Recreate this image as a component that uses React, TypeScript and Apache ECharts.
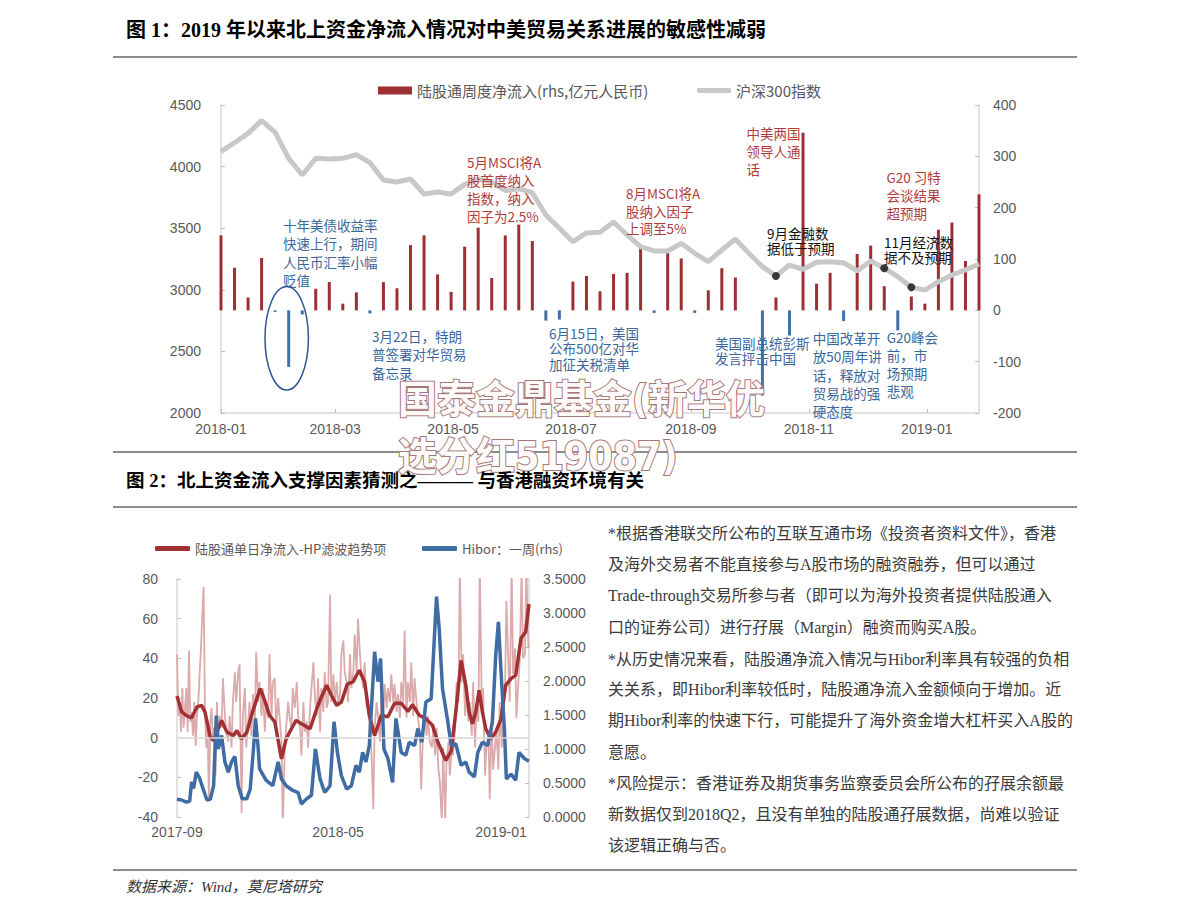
import React, { useEffect, useRef } from "react";
import * as echarts from "echarts";

// ---------------- Figure 1 data ----------------
const weekDates = [
  "2018-01-05","2018-01-12","2018-01-19","2018-01-26","2018-02-02","2018-02-09","2018-02-16","2018-02-23",
  "2018-03-02","2018-03-09","2018-03-16","2018-03-23","2018-03-30","2018-04-06","2018-04-13","2018-04-20","2018-04-27",
  "2018-05-04","2018-05-11","2018-05-18","2018-05-25","2018-06-01","2018-06-08","2018-06-15","2018-06-22","2018-06-29",
  "2018-07-06","2018-07-13","2018-07-20","2018-07-27","2018-08-03","2018-08-10","2018-08-17","2018-08-24","2018-08-31",
  "2018-09-07","2018-09-14","2018-09-21","2018-09-28","2018-10-05","2018-10-12","2018-10-19","2018-10-26",
  "2018-11-02","2018-11-09","2018-11-16","2018-11-23","2018-11-30","2018-12-07","2018-12-14","2018-12-21","2018-12-28",
  "2019-01-04","2019-01-11","2019-01-18","2019-01-25","2019-02-01",
];
const weeklyNetInflow = [
  146, 83, 25, 102, -3, -110, -8, 42, 55, 13, 35, -6, 55, 43, 127, 146, 70, 36, 124, 161,
  63, 146, 167, 135, -20, -18, 56, 67, 37, 71, 73, 122, -5, 113, 101, -5, 39, 82, 64, 0,
  -166, 25, -49, 346, 52, 73, -21, 110, 126, 47, -39, 27, 13, 157, 171, 96, 226,
];
const csi300 = [
  4121, 4194, 4270, 4373, 4278, 4067, 3932, 4067, 4062, 4067, 4097, 4032, 3891, 3875, 3899, 3778, 3794, 3778, 3856, 3897,
  3875, 3805, 3821, 3788, 3607, 3499, 3390, 3462, 3467, 3550, 3445, 3350, 3315, 3315, 3377, 3296, 3228, 3323, 3412, 3296,
  3188, 3112, 3201, 3166, 3223, 3228, 3220, 3153, 3234, 3175, 3106, 3020, 2998, 3066, 3120, 3161, 3209,
];
const eventDotIndex = [41, 49, 51];
const fig1TickDates = ["2018-01-05", "2018-03-05", "2018-05-05", "2018-07-05", "2018-09-05", "2018-11-05", "2019-01-05"];

// ---------------- Figure 2 data (x = days since 2017-09-01) ----------------
const fig2Origin = "2017-09-01";
const fig2End = "2019-02-12";
const fig2TickDates = ["2017-09-01", "2018-05-01", "2019-01-01"];

const dailyDays = [
  0, 2, 4, 6, 8, 10, 12, 14, 16, 18, 20, 22, 24, 26, 28, 30, 32, 34, 36, 38, 40, 42, 44, 46, 48, 50, 52, 54, 56, 58, 60, 62, 64,
  67, 69, 72, 74, 77, 79, 82, 84, 87, 89,
  92, 94, 97, 99, 102, 104, 107, 109, 112, 114,
  117, 119, 122, 124, 127, 129, 132, 134, 137, 139,
  142, 144, 147, 149, 152, 154, 157, 159, 162, 164,
  167, 169, 172, 174, 177, 180, 182, 185, 187, 190,
  192, 195, 197, 200, 202, 205, 207, 210, 212, 215,
  217, 220, 222, 225, 227, 230, 232, 235, 237, 240,
  242, 245, 247, 250, 252, 255, 257, 260, 262, 265,
  267, 270, 272, 275, 277, 280, 282, 285, 287, 290,
  292, 295, 297, 300, 302, 305, 307, 310, 312, 315,
  317, 320, 322, 325, 327, 330, 332, 335, 337, 340,
  342, 345, 347, 350, 352, 355, 357, 360, 362, 365,
  367, 370, 372, 375, 377, 380, 383, 385, 388, 390,
  393, 395, 398, 400, 403, 405, 408, 410, 413, 415,
  418, 420, 423, 425, 428, 430, 433, 435, 438, 440,
  443, 445, 448, 450, 453, 455, 458, 460, 463, 465,
  468, 470, 473, 475, 478, 480, 483, 485, 488, 490,
  493, 495, 498, 500, 503, 505, 508, 510, 513, 515,
  518, 520, 523, 525, 528, 529,
];
const dailyNetInflow = [
  42, 11, 18, 3, 25, 5, 15, 25, 3, 44, 8, 13, 1, 18, -4, 11, 18, 32, 45, 62, 76, 15, -5, 5, -32, 8, 15, -2, 5, -19, 18, -5, 11,
  5, 30, 11, 3, -2, 11, -5, 18, 33, 18,
  33, 37, -38, 11, 25, -5, 8, 18, 1, 22,
  8, 43, 18, 28, 11, 25, 3, 18, 10, 42,
  11, 28, 30, 5, 20, 11, -2, -45, -5, 5,
  18, 11, 5, 25, 15, 28, 11, 5, -9, 18,
  3, 8, -5, 15, 25, 38, 22, 11, 30, 3,
  25, 13, 33, 15, 18, 72, 18, 32, 18, 28,
  17, 22, 42, 49, 33, 28, 18, 42, 25, 33,
  52, 33, 60, 42, 32, 25, 38, 15, 18, 3,
  -5, -36, 5, 18, 11, -2, 22, 8, 27, 15,
  25, 18, 32, 18, 27, 13, 22, 10, 28, 18,
  54, 10, 28, 18, 38, 11, 30, 18, 11, 1,
  -26, 5, 15, 1, 11, -2, -5, 5, -9, 5,
  -16, -22, -43, -5, -43, -12, -2, -19, -5, -9,
  5, 28, 18, 87, 28, 42, 11, 25, 8, 18,
  1, 28, -5, 15, 8, 87, 18, 25, -19, -5,
  3, -31, 11, -16, -5, 5, -16, 18, -5, 11,
  25, 69, 37, 18, 87, 32, 45, 10, 28, 38,
  87, 40, 42, 87, 45, 47,
];
const hpDays = [
  0, 7, 15, 22, 30, 37, 42, 50, 55, 62, 67, 75, 85, 90, 97, 105, 112, 120, 125, 130,
  139, 147, 157, 164, 172, 179, 187, 200, 210, 217, 225, 232, 240, 247, 256, 265, 270, 274, 282, 289,
  297, 307, 317, 327, 337, 347, 354, 364, 374, 384, 392, 404, 412, 419, 427, 434, 439, 444, 449, 454,
  459, 464, 472, 479, 487, 494, 502, 509, 517, 524, 529,
];
const hpTrend = [
  21, 13, 11, 10, 15.5, 16.3, 13, 0.3, -1.4, 4.5, 8.7, 2.8, 1.1, 3.6, -0.6, 2.8, 11.3, 19.7, 24.7, 20.5,
  11.3, 8, -10.7, -0.6, 4.5, 8.7, 7, 4.5, 14.6, 20.5, 26.4, 21.4, 16.3, 18, 27, 28.3, 31.6, 34, 28.1, 11.3,
  1.1, 11.3, 10.5, 17.4, 17.4, 13.2, 16.6, 11.3, 9.6, 6.2, -2.2, -11.5, -6.8, 12.9, 39, 26.4, 12.9, 7, 12.9, 23.9,
  12.9, 4.5, -0.6, 2.8, 9.5, 26.4, 29.8, 31.5, 50, 53.4, 67.4,
];
const hiborDays = [
  0, 7, 14, 19, 22, 25, 29, 34, 39, 45, 50, 55, 59, 62, 67, 72, 77, 82, 87, 92,
  98, 105, 110, 115, 118, 122, 124, 134, 144, 152, 157, 164, 174, 182, 187, 195, 202, 208, 215, 222,
  230, 236, 241, 247, 255, 262, 269, 274, 279, 284, 289, 297, 302, 306, 311, 317, 324, 329, 337, 344,
  349, 357, 362, 368, 374, 382, 390, 394, 399, 407, 412, 419, 427, 434, 439, 447, 452, 459, 467, 474,
  479, 483, 487, 492, 495, 502, 509, 514, 522, 529,
];
const hibor1w = [
  0.26, 0.25, 0.22, 0.23, 0.52, 0.42, 0.66, 0.57, 0.42, 0.25, 0.26, 0.46, 1.49, 1.0, 1.2, 0.81, 0.66, 0.81, 0.89, 0.46,
  0.27, 0.27, 0.41, 1.01, 1.45, 1.01, 0.71, 0.54, 0.46, 0.81, 0.56, 0.46, 0.39, 0.36, 0.19, 0.27, 0.32, 1.0, 0.56, 0.36,
  0.46, 1.4, 0.95, 0.61, 0.41, 0.46, 0.76, 0.66, 0.95, 0.81, 1.05, 2.43, 1.99, 2.33, 1.0, 0.86, 0.51, 1.45, 0.95, 0.91,
  1.1, 1.05, 1.3, 1.1, 1.69, 1.74, 3.24, 2.78, 1.89, 1.4, 1.05, 1.08, 0.76, 0.81, 0.66, 0.59, 0.95, 1.1, 1.05, 1.4,
  2.38, 2.87, 2.13, 1.3, 0.56, 0.63, 0.54, 0.95, 0.86, 0.82,
];

// ---------------- texts ----------------
const title1 = "图 1：2019 年以来北上资金净流入情况对中美贸易关系进展的敏感性减弱";
const title2 = "图 2：北上资金流入支撑因素猜测之——— 与香港融资环境有关";
const sourceText = "数据来源：Wind，莫尼塔研究";
const watermarkLines = ["国泰金鼎基金(新华优", "选分红519087)"];
const NAME_BAR = "陆股通周度净流入(rhs,亿元人民币)";
const NAME_CSI = "沪深300指数";
const NAME_HP = "陆股通单日净流入-HP滤波趋势项";
const NAME_HIBOR = "Hibor：一周(rhs)";
const paragraphLines = [
  "*根据香港联交所公布的互联互通市场《投资者资料文件》，香港",
  "及海外交易者不能直接参与A股市场的融资融券，但可以通过",
  "Trade-through交易所参与者（即可以为海外投资者提供陆股通入",
  "口的证券公司）进行孖展（Margin）融资而购买A股。",
  "*从历史情况来看，陆股通净流入情况与Hibor利率具有较强的负相",
  "关关系，即Hibor利率较低时，陆股通净流入金额倾向于增加。近",
  "期Hibor利率的快速下行，可能提升了海外资金增大杠杆买入A股的",
  "意愿。",
  "*风险提示：香港证券及期货事务监察委员会所公布的孖展余额最",
  "新数据仅到2018Q2，且没有单独的陆股通孖展数据，尚难以验证",
  "该逻辑正确与否。",
];

// ---------------- styling ----------------
const RED = "#9c2f31";
const NEG_BLUE = "#4271a4";
const GRAY_LINE = "#c8c8c8";
const HP_RED = "#a23134";
const HIBOR_BLUE = "#3e6ca3";
const PINK = "#dcaaaa";
const AXIS_C = "#d9d9d9";
const LABEL_C = "#595959";
const NOTE_RED = "#b23b3b";
const NOTE_BLUE = "#3b679c";
const NOTE_BLACK = "#111111";
const SERIF_CJK = '"Liberation Serif", "Noto Sans CJK SC", serif';
const SANS_CJK = '"Noto Sans CJK SC", sans-serif';
const NUM_FONT = '"Liberation Sans", Arial, sans-serif';
const WM_FONT = '"Liberation Sans Narrow", "DejaVu Sans Condensed", "Noto Sans CJK SC", sans-serif';

const DAY_MS = 86400000;
const dayOf = (s: string, origin: string) =>
  Math.round((Date.parse(s + "T00:00:00Z") - Date.parse(origin + "T00:00:00Z")) / DAY_MS);

const notes = [
  { t: "十年美债收益率\n快速上行，期间\n人民币汇率小幅\n贬值", x: 283, y: 216, c: NOTE_BLUE, lh: 18.3 },
  { t: "3月22日，特朗\n普签署对华贸易\n备忘录", x: 372, y: 327, c: NOTE_BLUE, lh: 18.3 },
  { t: "5月MSCI将A\n股首度纳入\n指数，纳入\n因子为2.5%", x: 467, y: 153, c: NOTE_RED, lh: 18 },
  { t: "6月15日，美国\n公布500亿对华\n加征关税清单", x: 549, y: 325, c: NOTE_BLUE, lh: 15.5 },
  { t: "8月MSCI将A\n股纳入因子\n上调至5%", x: 626, y: 184.5, c: NOTE_RED, lh: 17.5 },
  { t: "中美两国\n领导人通\n话", x: 746.5, y: 124, c: NOTE_RED, lh: 18 },
  { t: "9月金融数\n据低于预期", x: 767, y: 225.5, c: NOTE_BLACK, lh: 15 },
  { t: "G20 习特\n会谈结果\n超预期", x: 886.5, y: 168.3, c: NOTE_RED, lh: 18 },
  { t: "11月经济数\n据不及预期", x: 884, y: 234.2, c: NOTE_BLACK, lh: 15 },
  { t: "美国副总统彭斯\n发言抨击中国", x: 715, y: 335.8, c: NOTE_BLUE, lh: 15 },
  { t: "中国改革开\n放50周年讲\n话，释放对\n贸易战的强\n硬态度", x: 812.7, y: 329.3, c: NOTE_BLUE, lh: 18.1 },
  { t: "G20峰会\n前，市\n场预期\n悲观", x: 886.7, y: 327.6, c: NOTE_BLUE, lh: 18.1 },
];

function buildOption() {
  const origin1 = weekDates[0];
  const weekX = weekDates.map((d) => dayOf(d, origin1));
  const tick1 = fig1TickDates.map((d) => dayOf(d, origin1));
  const tick1Label: Record<number, string> = {};
  fig1TickDates.forEach((d, i) => (tick1Label[tick1[i]] = d.slice(0, 7)));

  const tick2 = fig2TickDates.map((d) => dayOf(d, fig2Origin));
  const tick2Label: Record<number, string> = {};
  fig2TickDates.forEach((d, i) => (tick2Label[tick2[i]] = d.slice(0, 7)));
  const max2 = dayOf(fig2End, fig2Origin);

  const axisLabelBase = { color: LABEL_C, fontSize: 14, fontFamily: NUM_FONT };
  const axisTickBase = { show: true, inside: true, length: 4, lineStyle: { color: "#bfbfbf" } };
  const axisLineBase = { show: true, onZero: false, lineStyle: { color: AXIS_C, width: 1.5 } };
  const plain = (v: number) => String(v);

  const graphic: any[] = [];
  [57, 452, 507, 870].forEach((y) =>
    graphic.push({ type: "line", shape: { x1: 113, y1: y, x2: 1077, y2: y }, style: { stroke: "#1a1a1a", lineWidth: 1 } })
  );
  graphic.push({
    type: "text", x: 126, y: 30, z: 120,
    style: { text: title1, fontSize: 20, fontWeight: "bold", fontFamily: SERIF_CJK, fill: "#000", align: "left", verticalAlign: "middle" },
  });
  graphic.push({
    type: "text", x: 126, y: 481, z: 120,
    style: { text: title2, fontSize: 18.5, fontWeight: "bold", fontFamily: SERIF_CJK, fill: "#000", align: "left", verticalAlign: "middle" },
  });
  graphic.push({
    type: "text", x: 126, y: 887,
    style: { text: sourceText, fontSize: 15, fontStyle: "italic", fontFamily: SERIF_CJK, fill: "#333", align: "left", verticalAlign: "middle" },
  });
  const paraY = [533, 564, 595, 627, 659, 689, 720, 752, 783, 814, 845];
  paragraphLines.forEach((t, i) =>
    graphic.push({
      type: "text", x: 608, y: paraY[i],
      style: { text: t, fontSize: 16, fontFamily: SERIF_CJK, fill: "#3a3a3a", align: "left", verticalAlign: "middle" },
    })
  );
  notes.forEach((n) =>
    graphic.push({
      type: "text", x: n.x, y: n.y, z: 10,
      style: { text: n.t, fontSize: 13.5, lineHeight: n.lh, fontFamily: SANS_CJK, fill: n.c, align: "left", verticalAlign: "top" },
    })
  );
  graphic.push({
    type: "ellipse", z: 10,
    shape: { cx: 286.7, cy: 338.3, rx: 21.7, ry: 51.7 },
    style: { fill: "none", stroke: "#2f5597", lineWidth: 1.5 },
  });
  watermarkLines.forEach((t, i) =>
    graphic.push({
      type: "text", x: 398, y: i === 0 ? 399 : 456, z: 100,
      style: {
        text: t, fontSize: 39, fontWeight: "bold", fontFamily: WM_FONT,
        fill: "#fffafa", stroke: "#a57878", lineWidth: 2, align: "left", verticalAlign: "middle",
      },
    })
  );

  const legendText = (size: number) => ({ fontSize: size, color: LABEL_C, fontFamily: SANS_CJK });

  return {
    animation: false,
    backgroundColor: "#ffffff",
    grid: [
      { left: 221, top: 105, width: 758, height: 308 },
      { left: 177, top: 579, width: 352, height: 238 },
    ],
    legend: [
      { left: 378, top: 83, padding: 0, itemWidth: 34, itemHeight: 8, textStyle: legendText(15), data: [{ name: NAME_BAR, icon: "rect" }] },
      { left: 697, top: 83, padding: 0, itemWidth: 34, itemHeight: 5, textStyle: legendText(15), data: [{ name: NAME_CSI, icon: "roundRect" }] },
      { left: 155, top: 542, padding: 0, itemWidth: 35, itemHeight: 5, textStyle: legendText(13), data: [{ name: NAME_HP, icon: "roundRect" }] },
      { left: 422, top: 542, padding: 0, itemWidth: 35, itemHeight: 5, textStyle: legendText(13), data: [{ name: NAME_HIBOR, icon: "roundRect" }] },
    ],
    xAxis: [
      {
        type: "value", gridIndex: 0, min: 0, max: weekX[weekX.length - 1],
        axisLine: axisLineBase,
        axisTick: { ...axisTickBase, customValues: tick1 },
        axisLabel: { ...axisLabelBase, margin: 9, customValues: tick1, formatter: (v: number) => tick1Label[v] ?? "" },
        splitLine: { show: false },
      },
      {
        type: "value", gridIndex: 1, min: 0, max: max2,
        axisLine: { show: false, onZero: false },
        axisTick: { show: false },
        axisLabel: { ...axisLabelBase, margin: 8, customValues: tick2, formatter: (v: number) => tick2Label[v] ?? "" },
        splitLine: { show: false },
      },
    ],
    yAxis: [
      {
        type: "value", gridIndex: 0, position: "left", min: 2000, max: 4500, interval: 500,
        axisLine: axisLineBase, axisTick: axisTickBase,
        axisLabel: { ...axisLabelBase, margin: 20, formatter: plain }, splitLine: { show: false },
      },
      {
        type: "value", gridIndex: 0, position: "right", min: -200, max: 400, interval: 100,
        axisLine: axisLineBase, axisTick: axisTickBase,
        axisLabel: { ...axisLabelBase, margin: 14, formatter: plain }, splitLine: { show: false },
      },
      {
        type: "value", gridIndex: 1, position: "left", min: -40, max: 80, interval: 20,
        axisLine: axisLineBase, axisTick: axisTickBase,
        axisLabel: { ...axisLabelBase, margin: 19, formatter: plain }, splitLine: { show: false },
      },
      {
        type: "value", gridIndex: 1, position: "right", min: 0, max: 3.5, interval: 0.5,
        axisLine: axisLineBase, axisTick: axisTickBase,
        axisLabel: { ...axisLabelBase, margin: 14, formatter: (v: number) => v.toFixed(4) }, splitLine: { show: false },
      },
    ],
    graphic,
    series: [
      {
        name: NAME_BAR, type: "bar", xAxisIndex: 0, yAxisIndex: 1, barWidth: 3,
        itemStyle: { color: RED },
        data: weeklyNetInflow.map((v, i) => ({ value: [weekX[i], v], itemStyle: { color: v < 0 ? NEG_BLUE : RED } })),
      },
      {
        name: NAME_CSI, type: "line", xAxisIndex: 0, yAxisIndex: 0, symbol: "none",
        lineStyle: { width: 5, color: GRAY_LINE }, itemStyle: { color: GRAY_LINE },
        data: csi300.map((v, i) => [weekX[i], v]),
      },
      {
        name: "events", type: "scatter", xAxisIndex: 0, yAxisIndex: 0, symbolSize: 8, z: 5,
        itemStyle: { color: "#111" },
        data: eventDotIndex.map((i) => [weekX[i], csi300[i]]),
      },
      {
        name: "daily", type: "line", xAxisIndex: 1, yAxisIndex: 2, symbol: "none",
        lineStyle: { width: 1.8, color: PINK }, itemStyle: { color: PINK },
        data: dailyNetInflow.map((v, i) => [dailyDays[i], v]).filter((p) => p[0] !== undefined),
        markLine: {
          silent: true, symbol: ["none", "none"], label: { show: false },
          lineStyle: { color: AXIS_C, type: "solid", width: 1.5 },
          data: [{ yAxis: 0 }],
        },
      },
      {
        name: NAME_HP, type: "line", xAxisIndex: 1, yAxisIndex: 2, symbol: "none",
        lineStyle: { width: 3.5, color: HP_RED }, itemStyle: { color: HP_RED },
        data: hpTrend.map((v, i) => [hpDays[i], v]),
      },
      {
        name: NAME_HIBOR, type: "line", xAxisIndex: 1, yAxisIndex: 3, symbol: "none",
        lineStyle: { width: 3.5, color: HIBOR_BLUE }, itemStyle: { color: HIBOR_BLUE },
        data: hibor1w.map((v, i) => [hiborDays[i], v]),
      },
    ],
  };
}

export default function App() {
  const ref = useRef<HTMLDivElement>(null);
  useEffect(() => {
    if (!ref.current) return;
    const chart = echarts.init(ref.current, undefined, { renderer: "svg" });
    chart.setOption(buildOption() as any);
    return () => chart.dispose();
  }, []);
  return (
    <div
      ref={ref}
      style={{ position: "fixed", left: 0, top: 0, width: 1191, height: 916, background: "#ffffff" }}
    />
  );
}
